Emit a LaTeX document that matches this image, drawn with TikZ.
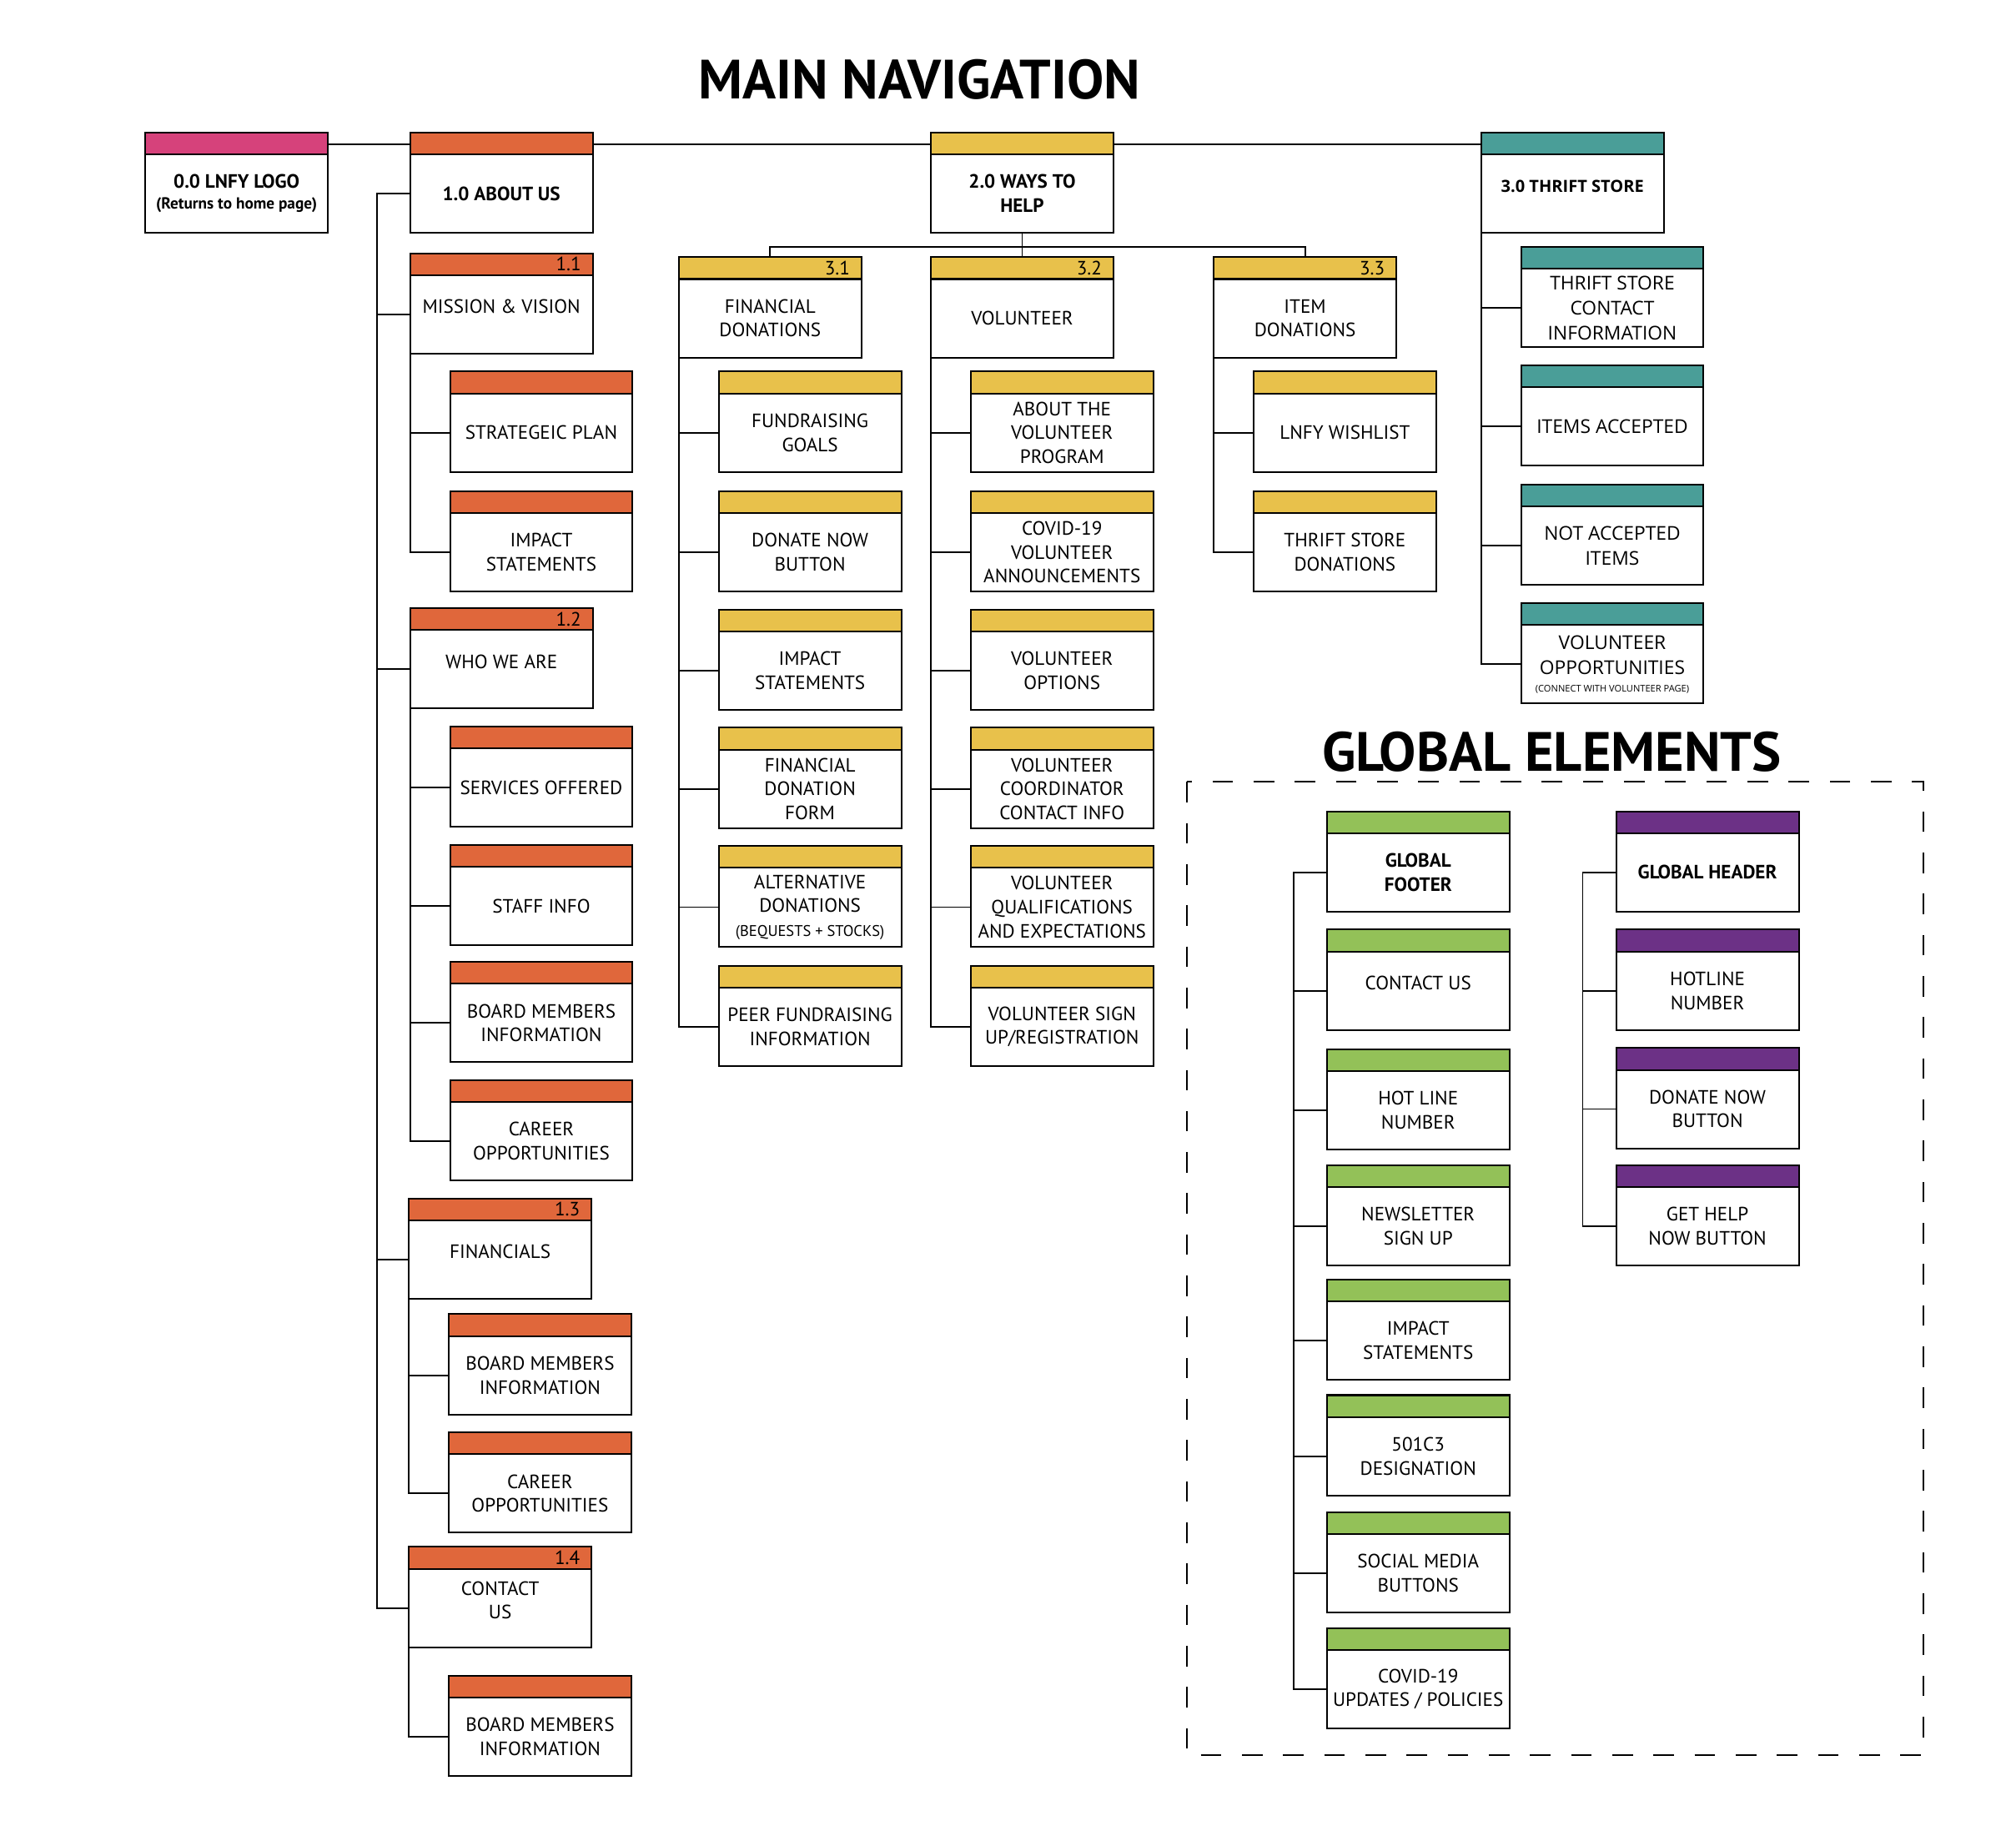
\documentclass[tikz,border=0pt]{standalone}
\usepackage{fontspec}
\setmainfont{PT Sans}
\newfontfamily\thriftfont{Open Sans}
\usetikzlibrary{backgrounds}
\definecolor{logopink}{HTML}{D6427B}
\definecolor{aboutorange}{HTML}{E0673B}
\definecolor{helpyellow}{HTML}{E8C14B}
\definecolor{thriftteal}{HTML}{4A9E98}
\definecolor{footgreen}{HTML}{93C158}
\definecolor{headpurple}{HTML}{6C3186}
\tikzset{page/.style={draw, line width=1.3pt, fill=white, outer sep=0pt, minimum width=142pt, minimum height=61pt, inner sep=1pt, align=center, font=\fontsize{15}{18.6}\selectfont}}
\tikzset{barlabel/.style={draw, line width=1.3pt, outer sep=0pt, minimum width=142pt, minimum height=17pt, inner sep=0pt, text width=124pt, align=right, font=\fontsize{15}{15}\selectfont}}
\tikzset{bar/.style 2 args={label={[barlabel, fill=#1]north:#2}}}
\tikzset{hi/.style={text depth=12pt}}
\tikzset{tsfont/.style={font=\thriftfont\fontsize{14.8}{19.5}\selectfont}}
\tikzset{link/.style={line width=1.2pt}}
\tikzset{heading/.style={font=\bfseries\fontsize{43}{43}\selectfont, inner sep=0pt}}

\begin{document}
\begin{tikzpicture}[x=1pt, y=-1pt]
  \useasboundingbox (0,0) rectangle (1568,1416);

  \node[heading] (navtitle) at (715,62)   {MAIN NAVIGATION};
  \node[heading] (gltitle)  at (1207,585) {GLOBAL ELEMENTS};

  % top level
  \node[page, bar={logopink}{}]      (logo)   at (184,150.5)  {\bfseries 0.0 LNFY LOGO\\[-2pt]\bfseries\fontsize{12.5}{14}\selectfont (Returns to home page)};
  \node[page, bar={aboutorange}{}]   (about)  at (390,150.5)  {\bfseries 1.0 ABOUT US};
  \node[page, bar={helpyellow}{}]    (ways)   at (795,150.5)  {\bfseries 2.0 WAYS TO\\\bfseries HELP};
  \node[page, bar={thriftteal}{}, hi, font=\thriftfont\bfseries\fontsize{13}{15}\selectfont] (thrift) at (1223,150.5) {3.0 THRIFT STORE};

  % 1.0 about us
  \node[page, bar={aboutorange}{1.1}, hi] (mission)  at (390,244.5)  {MISSION \& VISION};
  \node[page, bar={aboutorange}{}]        (plan)     at (421,336.5)  {STRATEGEIC PLAN};
  \node[page, bar={aboutorange}{}]        (impact)   at (421,429.5)  {IMPACT\\STATEMENTS};
  \node[page, bar={aboutorange}{1.2}, hi] (who)      at (390,520.5)  {WHO WE ARE};
  \node[page, bar={aboutorange}{}]        (services) at (421,612.5)  {SERVICES OFFERED};
  \node[page, bar={aboutorange}{}]        (staff)    at (421,704.5)  {STAFF INFO};
  \node[page, bar={aboutorange}{}]        (board)    at (421,795.5)  {BOARD MEMBERS\\INFORMATION};
  \node[page, bar={aboutorange}{}]        (career)   at (421,887.5)  {CAREER\\OPPORTUNITIES};
  \node[page, bar={aboutorange}{1.3}, hi] (fins)     at (389,979.5)  {FINANCIALS};
  \node[page, bar={aboutorange}{}]        (fboard)   at (420,1069.5) {BOARD MEMBERS\\INFORMATION};
  \node[page, bar={aboutorange}{}]        (fcareer)  at (420,1161.5) {CAREER\\OPPORTUNITIES};
  \node[page, bar={aboutorange}{1.4}, hi] (contact)  at (389,1250.5) {CONTACT\\US};
  \node[page, bar={aboutorange}{}]        (cboard)   at (420,1350.5) {BOARD MEMBERS\\INFORMATION};

  % 2.0 ways to help
  \node[page, bar={helpyellow}{3.1}] (don)  at (599,247.5)  {FINANCIAL\\DONATIONS};
  \node[page, bar={helpyellow}{3.2}] (vol)  at (795,247.5)  {VOLUNTEER};
  \node[page, bar={helpyellow}{3.3}] (item) at (1015,247.5) {ITEM\\DONATIONS};

  \node[page, bar={helpyellow}{}] (goals)    at (630,336.5) {FUNDRAISING\\GOALS};
  \node[page, bar={helpyellow}{}] (donbtn)   at (630,429.5) {DONATE NOW\\BUTTON};
  \node[page, bar={helpyellow}{}] (dimpact)  at (630,521.5) {IMPACT\\STATEMENTS};
  \node[page, bar={helpyellow}{}] (dform)    at (630,613.5) {FINANCIAL\\DONATION\\FORM};
  \node[page, bar={helpyellow}{}] (altdon)   at (630,705.5) {ALTERNATIVE\\DONATIONS\\{\fontsize{12}{14}\selectfont (BEQUESTS + STOCKS)}};
  \node[page, bar={helpyellow}{}] (peer)     at (630,798.5) {PEER FUNDRAISING\\INFORMATION};

  \node[page, bar={helpyellow}{}] (volabout) at (826,336.5) {ABOUT THE\\VOLUNTEER\\PROGRAM};
  \node[page, bar={helpyellow}{}] (volcovid) at (826,429.5) {COVID-19\\VOLUNTEER\\ANNOUNCEMENTS};
  \node[page, bar={helpyellow}{}] (volopt)   at (826,521.5) {VOLUNTEER\\OPTIONS};
  \node[page, bar={helpyellow}{}] (volcoord) at (826,613.5) {VOLUNTEER\\COORDINATOR\\CONTACT INFO};
  \node[page, bar={helpyellow}{}] (volqual)  at (826,705.5) {VOLUNTEER\\QUALIFICATIONS\\AND EXPECTATIONS};
  \node[page, bar={helpyellow}{}] (volsign)  at (826,798.5) {VOLUNTEER SIGN\\UP/REGISTRATION};

  \node[page, bar={helpyellow}{}] (wishlist) at (1046,336.5) {LNFY WISHLIST};
  \node[page, bar={helpyellow}{}] (tsdon)    at (1046,429.5) {THRIFT STORE\\DONATIONS};

  % 3.0 thrift store
  \node[page, bar={thriftteal}{}, tsfont] (tscontact) at (1254,239.5) {THRIFT STORE\\CONTACT\\INFORMATION};
  \node[page, bar={thriftteal}{}, tsfont] (tsitems)   at (1254,331.5) {ITEMS ACCEPTED};
  \node[page, bar={thriftteal}{}, tsfont] (tsnot)     at (1254,424.5) {NOT ACCEPTED\\ITEMS};
  \node[page, bar={thriftteal}{}, tsfont] (tsvol)     at (1254,516.5) {VOLUNTEER\\OPPORTUNITIES\\[-6pt]{\fontsize{7.2}{8}\selectfont (CONNECT WITH VOLUNTEER PAGE)}};

  % global elements
  \draw[line width=1.3pt, dash pattern=on 16pt off 16pt] (923,608) rectangle (1496,1365);

  \node[page, bar={footgreen}{}]     (footer)   at (1103,678.5)  {\bfseries GLOBAL\\\bfseries FOOTER};
  \node[page, bar={footgreen}{}, hi] (gcontact) at (1103,770.5)  {CONTACT US};
  \node[page, bar={footgreen}{}]     (ghotline) at (1103,863.5)  {HOT LINE\\NUMBER};
  \node[page, bar={footgreen}{}]     (gnews)    at (1103,953.5)  {NEWSLETTER\\SIGN UP};
  \node[page, bar={footgreen}{}]     (gimpact)  at (1103,1042.5) {IMPACT\\STATEMENTS};
  \node[page, bar={footgreen}{}]     (gdesig)   at (1103,1132.5) {501C3\\DESIGNATION};
  \node[page, bar={footgreen}{}]     (gsocial)  at (1103,1223.5) {SOCIAL MEDIA\\BUTTONS};
  \node[page, bar={footgreen}{}]     (gcovid)   at (1103,1313.5) {COVID-19\\UPDATES / POLICIES};

  \node[page, bar={headpurple}{}] (header)   at (1328,678.5) {\bfseries GLOBAL HEADER};
  \node[page, bar={headpurple}{}] (hhotline) at (1328,770.5) {HOTLINE\\NUMBER};
  \node[page, bar={headpurple}{}] (hdonate)  at (1328,862.5) {DONATE NOW\\BUTTON};
  \node[page, bar={headpurple}{}] (hhelp)    at (1328,953.5) {GET HELP\\NOW BUTTON};

  \begin{scope}[on background layer]
    \draw[link] ([yshift=8pt]logo.north east) -- ([yshift=8pt]thrift.north west);

    \coordinate (atrunk) at ([xshift=-26pt]about.west);
    \draw[link] (about.west) -- (atrunk) |- (contact.west);
    \draw[link] (atrunk) |- (mission.west);
    \draw[link] (atrunk) |- (who.west);
    \draw[link] (atrunk) |- (fins.west);
    \draw[link] (mission.south west) |- (impact.west);
    \draw[link] (mission.south west) |- (plan.west);
    \draw[link] (who.south west) |- (career.west);
    \foreach \kid in {services,staff,board}
      \draw[link] (who.south west) |- (\kid.west);
    \draw[link] (fins.south west) |- (fcareer.west);
    \draw[link] (fins.south west) |- (fboard.west);
    \draw[link] (contact.south west) |- (cboard.west);

    \draw[link] (ways.south) -- ++(0,11) coordinate (wfork);
    \draw[link] (wfork) -| (don.north);
    \draw[link] (wfork) -| (vol.north);
    \draw[link] (wfork) -| (item.north);
    \foreach \kid in {goals,donbtn,dimpact,dform,altdon,peer}
      \draw[link] (don.south west) |- (\kid.west);
    \foreach \kid in {volabout,volcovid,volopt,volcoord,volqual,volsign}
      \draw[link] (vol.south west) |- (\kid.west);
    \foreach \kid in {wishlist,tsdon}
      \draw[link] (item.south west) |- (\kid.west);

    \foreach \kid in {tscontact,tsitems,tsnot,tsvol}
      \draw[link] (thrift.south west) |- (\kid.west);

    \coordinate (gtrunk) at ([xshift=-26pt]footer.west);
    \draw[link] (footer.west) -- (gtrunk) |- (gcovid.west);
    \foreach \kid in {gcontact,ghotline,gnews,gimpact,gdesig,gsocial}
      \draw[link] (gtrunk) |- (\kid.west);
    \coordinate (htrunk) at ([xshift=-26pt]header.west);
    \draw[link] (header.west) -- (htrunk) |- (hhelp.west);
    \foreach \kid in {hhotline,hdonate}
      \draw[link] (htrunk) |- (\kid.west);
  \end{scope}
\end{tikzpicture}
\end{document}
